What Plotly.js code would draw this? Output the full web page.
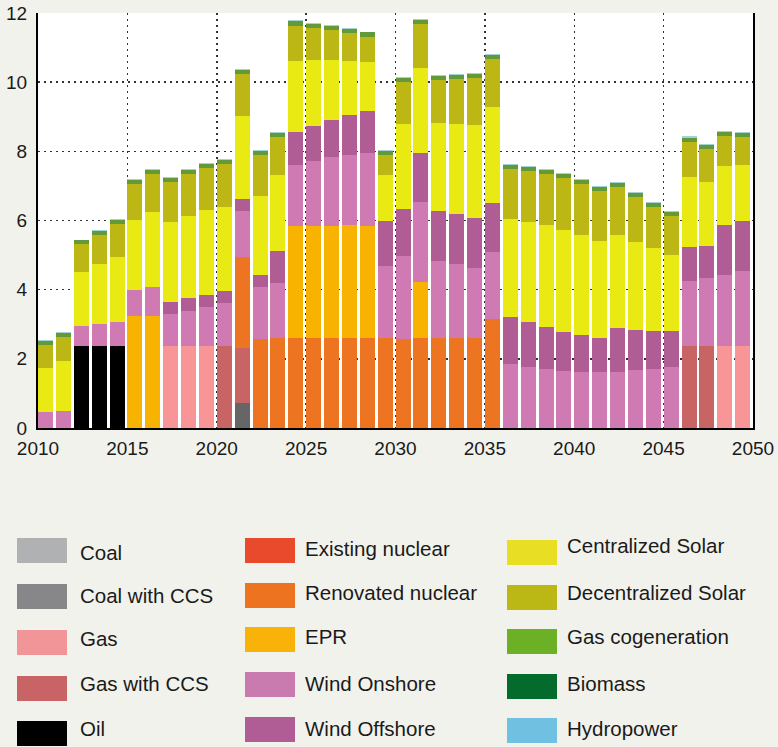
<!DOCTYPE html>
<html>
<head>
<meta charset="utf-8">
<script src="https://cdn.plot.ly/plotly-3.0.1.min.js"></script>
<style>
  html, body { margin: 0; padding: 0; background: #f2f2ed; }
  #chart { width: 778px; height: 747px; }
</style>
</head>
<body>
<div id="chart"></div>
<script>
// ---------- DATA ----------
const years = [2010,2011,2012,2013,2014,2015,2016,2017,2018,2019,
               2020,2021,2022,2023,2024,2025,2026,2027,2028,2029,
               2030,2031,2032,2033,2034,2035,2036,2037,2038,2039,
               2040,2041,2042,2043,2044,2045,2046,2047,2048,2049];

const seriesNames = ["Coal","Coal with CCS","Gas","Gas with CCS","Oil",
  "Existing nuclear","Renovated nuclear","EPR","Wind Onshore","Wind Offshore",
  "Centralized Solar","Decentralized Solar","Gas cogeneration","Biomass","Hydropower"];

const coal = [0,0,0,0,0,0,0,0,0,0, 0,0,0,0,0,0,0,0,0,0, 0,0,0,0,0,0,0,0,0,0, 0,0,0,0,0,0,0,0,0,0];
const coalCCS = [0,0,0,0,0,0,0,0,0,0, 0,0.71,0,0,0,0,0,0,0,0, 0,0,0,0,0,0,0,0,0,0, 0,0,0,0,0,0,0,0,0,0];
const gas = [0,0,0,0,0,0,0,2.36,2.36,2.36, 0,0,0,0,0,0,0,0,0,0, 0,0,0,0,0,0,0,0,0,0, 0,0,0,0,0,0,0,0,2.36,2.36];
const gasCCS = [0,0,0,0,0,0,0,0,0,0, 2.36,1.60,0,0,0,0,0,0,0,0, 0,0,0,0,0,0,0,0,0,0, 0,0,0,0,0,0,2.36,2.36,0,0];
const oil = [0,0,2.36,2.36,2.36,0,0,0,0,0, 0,0,0,0,0,0,0,0,0,0, 0,0,0,0,0,0,0,0,0,0, 0,0,0,0,0,0,0,0,0,0];
const existingNuclear = [0,0,0,0,0,0,0,0,0,0, 0,0,0,0,0,0,0,0,0,0, 0,0,0,0,0,0,0,0,0,0, 0,0,0,0,0,0,0,0,0,0];
const renovatedNuclear = [0,0,0,0,0,0,0,0,0,0, 0,2.63,2.57,2.60,2.60,2.60,2.60,2.60,2.60,2.60,
  2.57,2.60,2.60,2.60,2.60,3.15,0,0,0,0, 0,0,0,0,0,0,0,0,0.02,0];
const epr = [0,0,0,0,0,3.23,3.23,0,0,0, 0,0,0,0,3.24,3.24,3.24,3.27,3.24,0,
  0,1.62,0,0,0,0,0,0,0,0, 0,0,0,0,0,0,0,0,0,0];
const windOnshore = [0.45,0.48,0.58,0.64,0.70,0.76,0.84,0.93,1.02,1.13,
  1.25,1.33,1.50,1.59,1.77,1.88,2.00,2.03,2.11,2.08,
  2.40,2.31,2.23,2.14,2.02,1.94,1.84,1.76,1.70,1.64,
  1.61,1.61,1.61,1.67,1.70,1.76,1.89,1.97,2.04,2.18];
const windOffshore = [0,0,0,0,0,0,0,0.35,0.37,0.35,
  0.35,0.35,0.35,0.93,0.95,1.02,1.07,1.15,1.22,1.30,
  1.36,1.42,1.44,1.45,1.45,1.42,1.36,1.30,1.22,1.13,
  1.07,0.99,1.28,1.16,1.10,1.04,0.98,0.93,1.45,1.44];
const centralSolar = [1.28,1.45,1.57,1.74,1.88,2.02,2.18,2.33,2.38,2.46,
  2.43,2.41,2.29,2.20,2.06,1.91,1.74,1.57,1.42,1.34,
  2.46,2.47,2.55,2.60,2.69,2.78,2.84,2.90,2.95,2.95,
  2.90,2.81,2.69,2.55,2.40,2.20,2.03,1.85,1.71,1.63];
const decentralSolar = [0.66,0.70,0.81,0.84,0.96,1.05,1.10,1.14,1.22,1.22,
  1.24,1.21,1.19,1.10,1.01,0.92,0.87,0.81,0.72,0.58,
  1.22,1.27,1.25,1.31,1.37,1.39,1.45,1.47,1.48,1.51,
  1.48,1.44,1.39,1.30,1.19,1.13,1.01,0.96,0.87,0.81];
const gasCogen = [0.13,0.12,0.11,0.12,0.11,0.11,0.11,0.13,0.12,0.12,
  0.13,0.12,0.11,0.11,0.13,0.12,0.11,0.12,0.13,0.11,
  0.12,0.12,0.11,0.11,0.11,0.11,0.12,0.12,0.11,0.12,
  0.12,0.12,0.11,0.12,0.12,0.12,0.13,0.12,0.11,0.12];
const biomass = [0,0,0,0,0,0,0,0,0,0, 0,0,0,0,0,0,0,0,0,0, 0,0,0,0,0,0,0,0,0,0, 0,0,0,0,0,0,0,0,0,0];
const hydropower = [0.03,0.03,0.02,0.03,0.02,0.02,0.03,0.03,0.03,0.03,
  0.03,0.02,0.02,0.02,0.03,0.03,0.03,0.03,0.02,0.03,
  0.03,0.02,0.03,0.03,0.02,0.02,0.02,0.03,0.03,0.03,
  0.03,0.02,0.02,0.03,0.03,0.03,0.03,0.02,0.02,0.03];

const barColors = ["#b0b0b0","#666666","#f89596","#c96465","#000000",
  "#e94a2a","#ed7421","#f8b200","#cf7ab3","#b05c95",
  "#e9e914","#bcb714","#629a3a","#066a2c","#a6d2d6"];
const legendColors = ["#b0b1b3","#878789","#f29598","#c86465","#000000",
  "#e94a2b","#ee7320","#f9b20a","#c97bb0","#b05c95",
  "#e8df24","#bbb714","#6cb026","#036b2c","#70c0e2"];

const allSeries = [coal, coalCCS, gas, gasCCS, oil, existingNuclear, renovatedNuclear,
  epr, windOnshore, windOffshore, centralSolar, decentralSolar, gasCogen, biomass, hydropower];

// ---------- GEOMETRY ----------
const W = 778, H = 747;
const M = {l: 38, r: 25, t: 13, b: 319};
const PW = W - M.l - M.r, PH = H - M.t - M.b;
const px = x => (x - M.l) / PW;
const py = y => (H - M.b - y) / PH;

const traces = allSeries.map((vals, i) => ({
  type: "bar",
  name: seriesNames[i],
  x: years.map(y => y + 0.42),
  y: vals,
  width: 0.84,
  marker: {color: barColors[i], line: {width: 0}},
  showlegend: false,
  hoverinfo: "name+y"
}));

// ---------- CUSTOM LEGEND ----------
const colSwatchX = [17, 245, 507];
const colTextX = [78, 303, 565];
const swatchTops = [[538,584,630,676,721],[538,583,627,672,717],[540,585,629,674,718]];
const textMid = [[554,597,640,685,730],[549.5,594,638,684.5,729.5],[547,593.5,638,684.5,729.5]];

const shapes = [];
const annotations = [];
seriesNames.forEach((name, i) => {
  const c = Math.floor(i / 5), r = i % 5;
  const x0 = colSwatchX[c], y0 = swatchTops[c][r];
  shapes.push({type: "rect", xref: "paper", yref: "paper",
    x0: px(x0), x1: px(x0 + 50), y0: py(y0 + 25), y1: py(y0),
    fillcolor: legendColors[i], line: {width: 0}, layer: "above"});
  annotations.push({xref: "paper", yref: "paper", x: px(colTextX[c]), y: py(textMid[c][r] - 1.5),
    xanchor: "left", yanchor: "middle", text: name, showarrow: false,
    font: {family: "Liberation Sans, Arial, sans-serif", size: 20.5, color: "#1a1a1a"}});
});

const layout = {
  width: W, height: H,
  margin: M,
  paper_bgcolor: "#f2f2ed",
  plot_bgcolor: "#ffffff",
  barmode: "stack",
  showlegend: false,
  font: {family: "Liberation Sans, Arial, sans-serif", color: "#1a1a1a"},
  xaxis: {
    range: [2010, 2050], tickvals: [2010,2015,2020,2025,2030,2035,2040,2045,2050],
    ticktext: ["2010","2015","2020","2025","2030","2035","2040","2045","2050"],
    showgrid: true, gridcolor: "#333333", gridwidth: 1.5, griddash: "2px,4px",
    showline: true, linecolor: "#000000", linewidth: 2, mirror: false,
    zeroline: false, ticks: "", ticklabelstandoff: 2,
    tickfont: {size: 19, color: "#1a1a1a"}, fixedrange: true
  },
  yaxis: {
    range: [0, 12], tickvals: [0,2,4,6,8,10,12], ticktext: ["0","2","4","6","8","10","12"],
    showgrid: true, gridcolor: "#333333", gridwidth: 1.5, griddash: "2px,4px",
    showline: true, linecolor: "#000000", linewidth: 2, mirror: true,
    zeroline: false, ticks: "", ticklabelstandoff: 5,
    tickfont: {size: 19, color: "#1a1a1a"}, fixedrange: true
  },
  shapes: shapes,
  annotations: annotations
};

Plotly.newPlot("chart", traces, layout, {displayModeBar: false, staticPlot: true});
</script>
</body>
</html>
